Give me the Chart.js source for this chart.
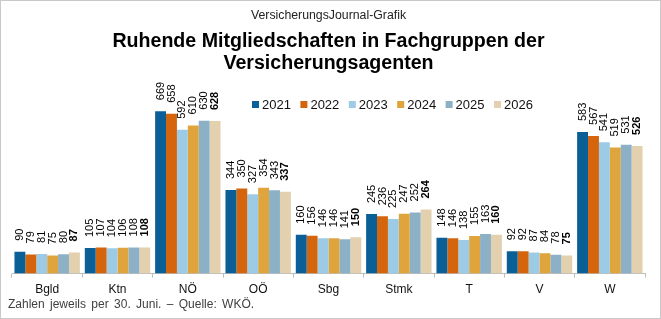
<!DOCTYPE html>
<html>
<head>
<meta charset="utf-8">
<script src="https://cdn.jsdelivr.net/npm/chart.js@4.4.1/dist/chart.umd.min.js"></script>
<style>
    body { margin: 0; background: #fff; }
    #wrap { position: relative; width: 661px; height: 319px; font-family: "Liberation Sans", Arial, sans-serif; }
    #frame { position: absolute; left: 0; top: 0; width: 661px; height: 319px; box-sizing: border-box; border: 1px solid #c9c9c9; pointer-events: none; }
    #chartBox { position: absolute; left: 0; top: 0; width: 661px; height: 302px; }
    #footer { position: absolute; left: 8px; top: 297px; font-size: 12px; color: #404040; word-spacing: 2px; }
</style>
</head>
<body>
<div id="wrap">
    <div id="chartBox"><canvas id="agentsChart"></canvas></div>
    <div id="footer">Zahlen jeweils per 30. Juni. – Quelle: WKÖ.</div>
    <div id="frame"></div>
</div>
<script>
// Data
const regions = ['Bgld', 'Ktn', 'NÖ', 'OÖ', 'Sbg', 'Stmk', 'T', 'V', 'W'];
const years = ['2021', '2022', '2023', '2024', '2025', '2026'];
const values2021 = [90, 105, 669, 344, 160, 245, 148, 92, 583];
const values2022 = [79, 107, 658, 350, 156, 236, 146, 92, 567];
const values2023 = [81, 104, 592, 327, 146, 225, 138, 87, 541];
const values2024 = [75, 106, 610, 354, 146, 247, 155, 84, 519];
const values2025 = [80, 108, 630, 343, 141, 252, 163, 78, 531];
const values2026 = [87, 108, 628, 337, 150, 264, 160, 75, 526];

const seriesValues = [values2021, values2022, values2023, values2024, values2025, values2026];
const seriesColors = ['#0b5f97', '#d4650d', '#9dcbe6', '#dfa53c', '#8cb1c7', '#e3d0ae'];

const fontFamily = '"Liberation Sans", Arial, sans-serif';

// Rotated value labels above each bar
const valueLabels = {
    id: 'valueLabels',
    afterDatasetsDraw(chart) {
        const ctx = chart.ctx;
        chart.data.datasets.forEach(function(ds, i) {
            const meta = chart.getDatasetMeta(i);
            const isLast = i === chart.data.datasets.length - 1;
            meta.data.forEach(function(bar, j) {
                ctx.save();
                ctx.translate(bar.x, bar.y - 11);
                ctx.rotate(-Math.PI / 2);
                ctx.font = (isLast ? 'bold ' : '') + '11px ' + fontFamily;
                ctx.fillStyle = '#000';
                ctx.textAlign = 'left';
                ctx.textBaseline = 'middle';
                ctx.fillText(String(ds.data[j]), 0, 0);
                ctx.restore();
            });
        });
    }
};

// Legend drawn inside the plot area
const insideLegend = {
    id: 'insideLegend',
    afterDraw(chart) {
        const ctx = chart.ctx;
        const startX = 252;
        const step = 48.4;
        const y = 104;
        ctx.save();
        ctx.font = '13px ' + fontFamily;
        ctx.textBaseline = 'middle';
        ctx.textAlign = 'left';
        chart.data.datasets.forEach(function(ds, i) {
            const x = startX + i * step;
            ctx.fillStyle = ds.backgroundColor;
            ctx.fillRect(x, y - 3, 7, 7);
            ctx.fillStyle = '#111';
            ctx.fillText(ds.label, x + 10, y + 1);
        });
        ctx.restore();
    }
};

const datasets = years.map(function(year, i) {
    return {
        label: year,
        data: seriesValues[i],
        backgroundColor: seriesColors[i],
        borderWidth: 0,
        categoryPercentage: 0.93,
        barPercentage: 1.0
    };
});

const chart = new Chart(document.getElementById('agentsChart'), {
    type: 'bar',
    data: {
        labels: regions,
        datasets: datasets
    },
    options: {
        responsive: true,
        maintainAspectRatio: false,
        animation: false,
        layout: {
            padding: { left: 12, right: 16, top: 0, bottom: 0 }
        },
        plugins: {
            legend: { display: false },
            tooltip: { enabled: false },
            title: {
                display: true,
                text: 'VersicherungsJournal-Grafik',
                color: '#222',
                font: { family: fontFamily, size: 12.3, weight: 'normal', lineHeight: 1.2 },
                padding: { top: 8, bottom: 8 }
            },
            subtitle: {
                display: true,
                text: ['Ruhende Mitgliedschaften in Fachgruppen der', 'Versicherungsagenten'],
                color: '#000',
                font: { family: fontFamily, size: 19.6, weight: 'bold', lineHeight: 1.13 },
                padding: { top: 0, bottom: 6 }
            }
        },
        scales: {
            x: {
                grid: {
                    display: true,
                    offset: true,
                    drawOnChartArea: false,
                    drawTicks: true,
                    tickLength: 4,
                    color: '#bdbdbd'
                },
                border: { display: true, color: '#bdbdbd' },
                ticks: {
                    color: '#111',
                    padding: 5,
                    font: { family: fontFamily, size: 12 }
                }
            },
            y: {
                display: false,
                min: 0,
                max: 793
            }
        }
    },
    plugins: [valueLabels, insideLegend]
});
</script>
</body>
</html>
